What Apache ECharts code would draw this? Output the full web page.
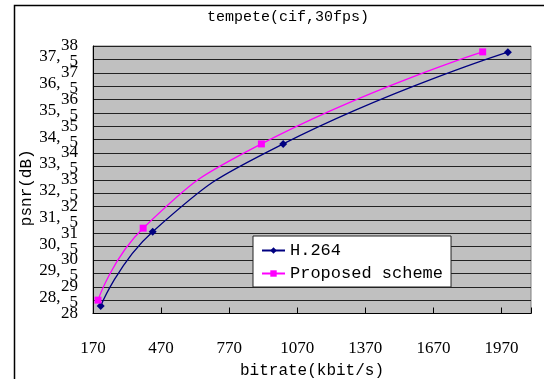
<!DOCTYPE html>
<html>
<head>
<meta charset="utf-8">
<script src="https://cdn.jsdelivr.net/npm/echarts@6/dist/echarts.min.js"></script>
<style>
html,body{margin:0;padding:0;background:#fff;}
#c{width:544px;height:379px;}
</style>
</head>
<body>
<div id="c"></div>
<script>
// ---- data ----
const seriesNames = ['H.264', 'Proposed scheme'];
const h264Bitrate = [204, 433, 1008, 1998];
const h264Psnr = [28.28, 31.06, 34.34, 37.77];
const propBitrate = [192, 391, 912, 1887];
const propPsnr = [28.50, 31.19, 34.34, 37.78];
const xTickLabels = [170, 470, 770, 1070, 1370, 1670, 1970];
const yTickMin = 28, yTickMax = 38, yTickStep = 0.5;

const serif = 'Liberation Serif';
const mono = 'Liberation Mono';

function pairs(xs, ys) { return xs.map((x, i) => [x, ys[i]]); }
function isInt(v) { return Math.abs(v - Math.round(v)) < 1e-6; }

const chart = echarts.init(document.getElementById('c'), null, {renderer: 'canvas'});
chart.setOption({
  animation: false,
  backgroundColor: '#fff',
  title: {
    text: 'tempete(cif,30fps)',
    left: 288, top: 10, padding: 0,
    textAlign: 'center',
    textStyle: {fontFamily: mono, fontSize: 15, fontWeight: 'normal', color: '#000'}
  },
  graphic: [{
    type: 'rect', left: 12, top: 3, z: 100, silent: true,
    shape: {width: 620, height: 420},
    style: {fill: 'none', stroke: '#000', lineWidth: 1.5}
  }],
  grid: {
    left: 93, right: 13, top: 46, bottom: 65.5,
    outerBoundsMode: 'none', containLabel: false,
    show: true, backgroundColor: '#c0c0c0', borderColor: '#808080', borderWidth: 1
  },
  legend: {
    orient: 'vertical', left: 253, top: 236,
    backgroundColor: '#fff', borderColor: '#222', borderWidth: 1,
    padding: [6, 8, 5, 8], itemWidth: 23, itemHeight: 8, itemGap: 6,
    textStyle: {fontFamily: mono, fontSize: 17, color: '#000'},
    data: seriesNames
  },
  xAxis: {
    type: 'value', min: 170, max: 2100, interval: 300,
    name: 'bitrate(kbit/s)', nameLocation: 'middle', nameGap: 41,
    nameTextStyle: {fontFamily: mono, fontSize: 16, color: '#000'},
    axisLine: {show: true, lineStyle: {color: '#000', width: 1}},
    axisTick: {show: true, inside: true, length: 6, lineStyle: {color: '#000'}},
    axisLabel: {
      margin: 27, fontFamily: serif, fontSize: 17, color: '#000',
      formatter: v => xTickLabels.indexOf(Math.round(v)) >= 0 ? String(Math.round(v)) : ''
    },
    splitLine: {show: false}
  },
  yAxis: [
    {
      type: 'value', min: yTickMin, max: yTickMax, interval: yTickStep, position: 'left',
      name: 'psnr(dB)', nameLocation: 'middle', nameGap: 58, nameRotate: 90,
      nameTextStyle: {fontFamily: mono, fontSize: 16, color: '#000', padding: [0, 16, 0, 0]},
      axisLine: {show: true, lineStyle: {color: '#000', width: 1}},
      axisTick: {show: false},
      axisLabel: {
        margin: 15, interval: 0, color: '#000',
        fontFamily: serif, fontSize: 17,
        showMinLabel: true, showMaxLabel: true,
        formatter: v => isInt(v) ? String(Math.round(v)) : ''
      },
      splitLine: {show: true, lineStyle: {color: '#222', width: 1}}
    },
    {
      type: 'value', min: yTickMin, max: yTickMax, interval: yTickStep, position: 'left',
      axisLine: {show: false}, axisTick: {show: false}, splitLine: {show: false},
      axisLabel: {
        margin: 15, interval: 0, color: '#000',
        showMinLabel: true, showMaxLabel: true,
        formatter: v => isInt(v) ? '' : '{h|' + Math.floor(v) + ',}{s|5}',
        rich: {
          h: {fontFamily: serif, fontSize: 17, color: '#000', padding: [0, 9, 5, 0]},
          s: {fontFamily: serif, fontSize: 17, color: '#000', padding: [5, 0, 0, 0]}
        }
      }
    }
  ],
  series: [
    {
      name: seriesNames[0], type: 'line', smooth: 0.5, yAxisIndex: 0,
      data: pairs(h264Bitrate, h264Psnr),
      symbol: 'diamond', symbolSize: 8,
      lineStyle: {color: '#000080', width: 1.3},
      itemStyle: {color: '#000080'}
    },
    {
      name: seriesNames[1], type: 'line', smooth: 0.5, yAxisIndex: 0,
      data: pairs(propBitrate, propPsnr),
      symbol: 'rect', symbolSize: 7,
      lineStyle: {color: '#ff00ff', width: 1.3},
      itemStyle: {color: '#ff00ff'}
    }
  ]
});
</script>
</body>
</html>
